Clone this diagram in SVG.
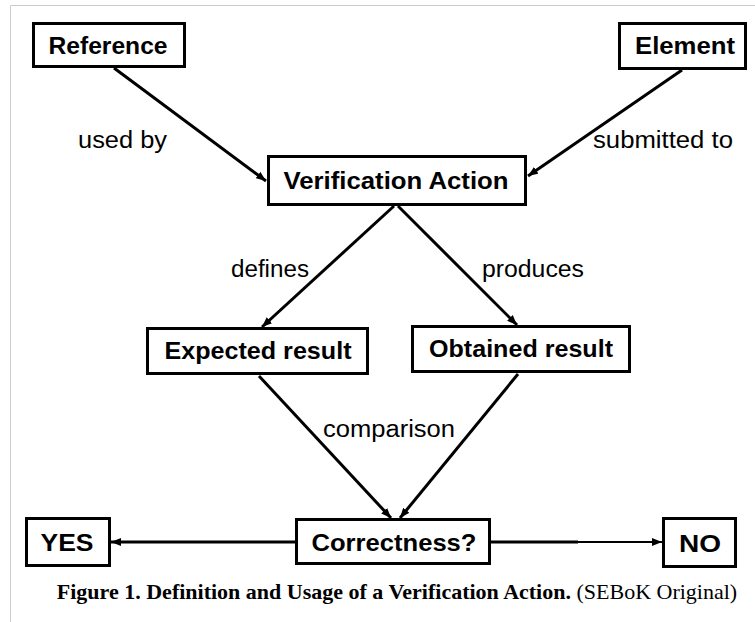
<svg xmlns="http://www.w3.org/2000/svg" width="755" height="622" viewBox="0 0 755 622">
  <style>
    .box { fill: #ffffff; stroke: #000000; stroke-width: 3; }
    .node { font-family: "Liberation Sans", Arial, sans-serif; font-weight: bold; font-size: 24px; fill: #000000; text-anchor: middle; }
    .lbl { font-family: "Liberation Sans", Arial, sans-serif; font-size: 23px; fill: #000000; }
    .edge { stroke: #000000; stroke-width: 3; fill: none; }
    .thin { stroke: #000000; stroke-width: 2; fill: none; }
    .frame { stroke: #cccccc; stroke-width: 1; fill: none; }
    .cap { font-family: "Liberation Serif", "Times New Roman", serif; font-size: 22px; fill: #000000; }
  </style>
  <defs>
    <marker id="arrow" viewBox="0 0 10 8" refX="10" refY="4" markerWidth="10" markerHeight="8" markerUnits="userSpaceOnUse" orient="auto">
      <path d="M0,0 L10,4 L0,8 z" fill="#000000"/>
    </marker>
  </defs>
  <rect width="755" height="622" fill="#ffffff"/>
  <path class="frame" d="M10.5,622 L10.5,5.5 L755,5.5"/>

  <g id="connectors">
    <line class="edge" x1="114" y1="68" x2="266" y2="181" marker-end="url(#arrow)"/>
    <line class="edge" x1="682" y1="70" x2="528" y2="176" marker-end="url(#arrow)"/>
    <line class="edge" x1="394" y1="206" x2="262" y2="327" marker-end="url(#arrow)"/>
    <line class="edge" x1="398" y1="206" x2="517" y2="325" marker-end="url(#arrow)"/>
    <line class="edge" x1="259" y1="376" x2="391" y2="518" marker-end="url(#arrow)"/>
    <line class="edge" x1="518" y1="374" x2="400" y2="518" marker-end="url(#arrow)"/>
    <line class="edge" x1="295" y1="542" x2="111" y2="542" marker-end="url(#arrow)"/>
    <line class="edge" x1="491" y1="542" x2="578" y2="542"/>
    <line class="thin" x1="578" y1="542" x2="662" y2="542" marker-end="url(#arrow)"/>
    <text class="lbl" x="78" y="148" textLength="89" lengthAdjust="spacingAndGlyphs">used by</text>
    <text class="lbl" x="593" y="148" textLength="140" lengthAdjust="spacingAndGlyphs">submitted to</text>
    <text class="lbl" x="231" y="277" textLength="78" lengthAdjust="spacingAndGlyphs">defines</text>
    <text class="lbl" x="482" y="277" textLength="102" lengthAdjust="spacingAndGlyphs">produces</text>
    <text class="lbl" x="323" y="437" textLength="132" lengthAdjust="spacingAndGlyphs">comparison</text>
  </g>

  <g id="reference">
    <rect class="box" x="33.5" y="23.5" width="151" height="43"/>
    <text class="node" x="108" y="54" textLength="119" lengthAdjust="spacingAndGlyphs">Reference</text>
  </g>
  <g id="element">
    <rect class="box" x="619.5" y="23.5" width="126" height="45"/>
    <text class="node" x="685" y="54" textLength="100" lengthAdjust="spacingAndGlyphs">Element</text>
  </g>
  <g id="verification-action">
    <rect class="box" x="268.5" y="156.5" width="257" height="48"/>
    <text class="node" x="396" y="189" textLength="225" lengthAdjust="spacingAndGlyphs">Verification Action</text>
  </g>
  <g id="expected-result">
    <rect class="box" x="147.5" y="328.5" width="220" height="45"/>
    <text class="node" x="258" y="359" textLength="187" lengthAdjust="spacingAndGlyphs">Expected result</text>
  </g>
  <g id="obtained-result">
    <rect class="box" x="412.5" y="326.5" width="217" height="45"/>
    <text class="node" x="521" y="357" textLength="184" lengthAdjust="spacingAndGlyphs">Obtained result</text>
  </g>
  <g id="correctness">
    <rect class="box" x="296.5" y="519.5" width="193" height="44"/>
    <text class="node" x="394" y="551" textLength="165" lengthAdjust="spacingAndGlyphs">Correctness?</text>
  </g>
  <g id="yes">
    <rect class="box" x="26.5" y="518.5" width="83" height="47"/>
    <text class="node" x="67" y="551" textLength="53" lengthAdjust="spacingAndGlyphs">YES</text>
  </g>
  <g id="no">
    <rect class="box" x="663.5" y="518.5" width="72" height="48"/>
    <text class="node" x="700" y="552" textLength="42" lengthAdjust="spacingAndGlyphs">NO</text>
  </g>

  <text class="cap" x="397" y="599" text-anchor="middle"><tspan font-weight="bold">Figure 1. Definition and Usage of a Verification Action.</tspan> (SEBoK Original)</text>
</svg>
